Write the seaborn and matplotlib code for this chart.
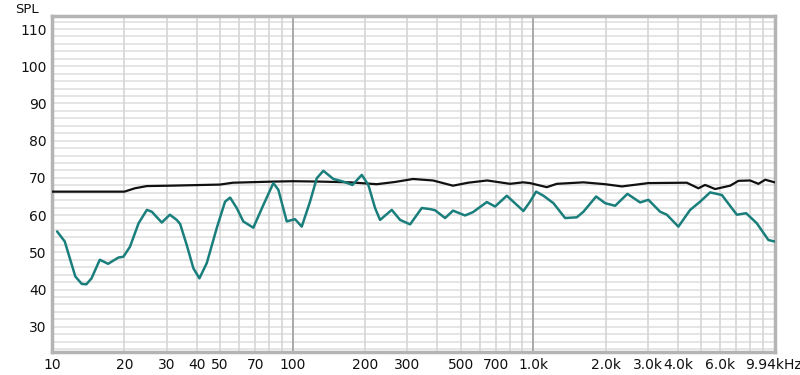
import numpy as np
import matplotlib
matplotlib.use("Agg")
import matplotlib.pyplot as plt
import pandas as pd
import seaborn as sns

# teal response curve (Hz, dB)
teal_freq = [10.5, 11.3, 12.5, 13.3, 13.9, 14.6, 15.8, 17.1, 18.9, 19.8, 21.1, 22.9,
             24.8, 26.0, 28.6, 30.9, 33.0, 34.1, 36.3, 38.7, 41.0, 44.0, 48.4, 52.4,
             55.0, 58.6, 62.4, 68.7, 75.6, 83.2, 87.3, 94.6, 102.4, 109.2, 118.2,
             126.1, 134.3, 147.8, 162.6, 177.4, 194.0, 206.6, 220.3, 231.1,
             258.5, 279.9, 308.1, 344.5, 373.2, 391.3,
             430.7, 464.6, 521.2, 563.0, 642.0, 695.1, 777.6, 911.5, 971, 1029, 1104,
             1215, 1359, 1520, 1619, 1828, 1993, 2193, 2467, 2786, 3016, 3373, 3597,
             4018, 4498, 4946, 5445, 6090, 7030, 7687, 8511, 9510, 10100]
teal_spl = [55.6, 52.9, 43.5, 41.5, 41.4, 43.0, 48.0, 46.9, 48.6, 48.8, 51.5, 57.8,
            61.4, 60.9, 58.0, 60.1, 58.7, 57.6, 52.0, 45.7, 43.0, 47.1, 56.5, 63.6,
            64.7, 61.9, 58.3, 56.6, 62.7, 68.6, 66.8, 58.3, 58.9, 56.9, 63.6,
            69.9, 71.9, 69.7, 69.0, 68.1, 70.8, 68.1, 61.9, 58.7,
            61.4, 58.7, 57.5, 61.9, 61.6, 61.3,
            59.2, 61.2, 59.9, 60.8, 63.5, 62.3, 65.2, 61.1, 63.6, 66.3, 65.2,
            63.2, 59.2, 59.4, 60.9, 65.0, 63.2, 62.5, 65.7, 63.4, 64.1, 60.9, 60.1,
            56.9, 61.4, 63.6, 66.1, 65.4, 60.1, 60.5, 57.8, 53.3, 52.9]

# black response curve (Hz, dB)
black_freq = [10, 20, 22.1, 24.8, 30.9, 49.9, 56.5, 83.0, 100.5, 130, 173.4, 224,
              266.9, 316.9, 383.7, 464.6, 537, 644, 802, 908, 971, 1140, 1254, 1619,
              1993, 2339, 3016, 4355, 4866, 5188, 5713, 6592, 7139, 7980, 8643,
              9226, 10100]
black_spl = [66.3, 66.3, 67.2, 67.8, 67.9, 68.2, 68.7, 69.0, 69.1, 69.0, 68.8, 68.3,
             68.9, 69.7, 69.3, 67.9, 68.7, 69.3, 68.4, 68.8, 68.6, 67.5, 68.4, 68.8,
             68.3, 67.7, 68.6, 68.7, 67.2, 68.1, 67.0, 67.9, 69.2, 69.3, 68.4,
             69.5, 68.8]

tick_freqs = [10, 20, 30, 40, 50, 70, 100, 200, 300, 500, 700, 1000, 2000, 3000,
              4000, 6000, 9940]
tick_labels = ["10", "20", "30", "40", "50", "70", "100", "200", "300", "500", "700",
               "1.0k", "2.0k", "3.0k", "4.0k", "6.0k", "9.94kHz"]
spl_ticks = [30, 40, 50, 60, 70, 80, 90, 100, 110]

sns.set_style("white")
plt.rcParams['font.family'] = ['DejaVu Sans']

teal_df = pd.DataFrame({"freq": teal_freq, "spl": teal_spl})
black_df = pd.DataFrame({"freq": black_freq, "spl": black_spl})

fig = plt.figure(figsize=(8, 3.75), dpi=100)
ax = fig.add_axes([0.065, 0.0613, 0.904, 0.896])

ax.set_xscale("log")
ax.set_xlim(10, 10150)
ax.set_ylim(23.2, 113.5)

# grid lines
for y in np.arange(24, 114, 2):
    ax.axhline(y, color="#dedede", lw=1.1, zorder=0)
for f in [20, 30, 40, 50, 60, 70, 80, 90, 200, 300, 400, 500, 600, 700, 800, 900,
          2000, 3000, 4000, 5000, 6000, 7000, 8000, 9000]:
    ax.axvline(f, color="#d6d6d6", lw=1.2, zorder=1)
for f in [100, 1000]:
    ax.axvline(f, color="#a8a8a8", lw=1.4, zorder=2)

sns.lineplot(data=black_df, x="freq", y="spl", color="#111111", lw=1.6, ax=ax,
             sort=False, estimator=None, zorder=3)
sns.lineplot(data=teal_df, x="freq", y="spl", color="#1a7f7c", lw=1.8, ax=ax,
             sort=False, estimator=None, zorder=4)

ax.set_xticks(tick_freqs)
ax.set_xticklabels(tick_labels)
ax.xaxis.set_minor_locator(matplotlib.ticker.NullLocator())
ax.set_yticks(spl_ticks)
ax.tick_params(axis="both", length=0, labelsize=10, colors="#111111", pad=4)
ax.set_xlabel("")
ax.set_ylabel("")

for s in ax.spines.values():
    s.set_color("#b4b4b4")
    s.set_linewidth(2.5)

fig.text(0.034, 0.975, "SPL", fontsize=9.5, ha="center", va="center", color="#111111")

fig.savefig("out.png", dpi=100)
